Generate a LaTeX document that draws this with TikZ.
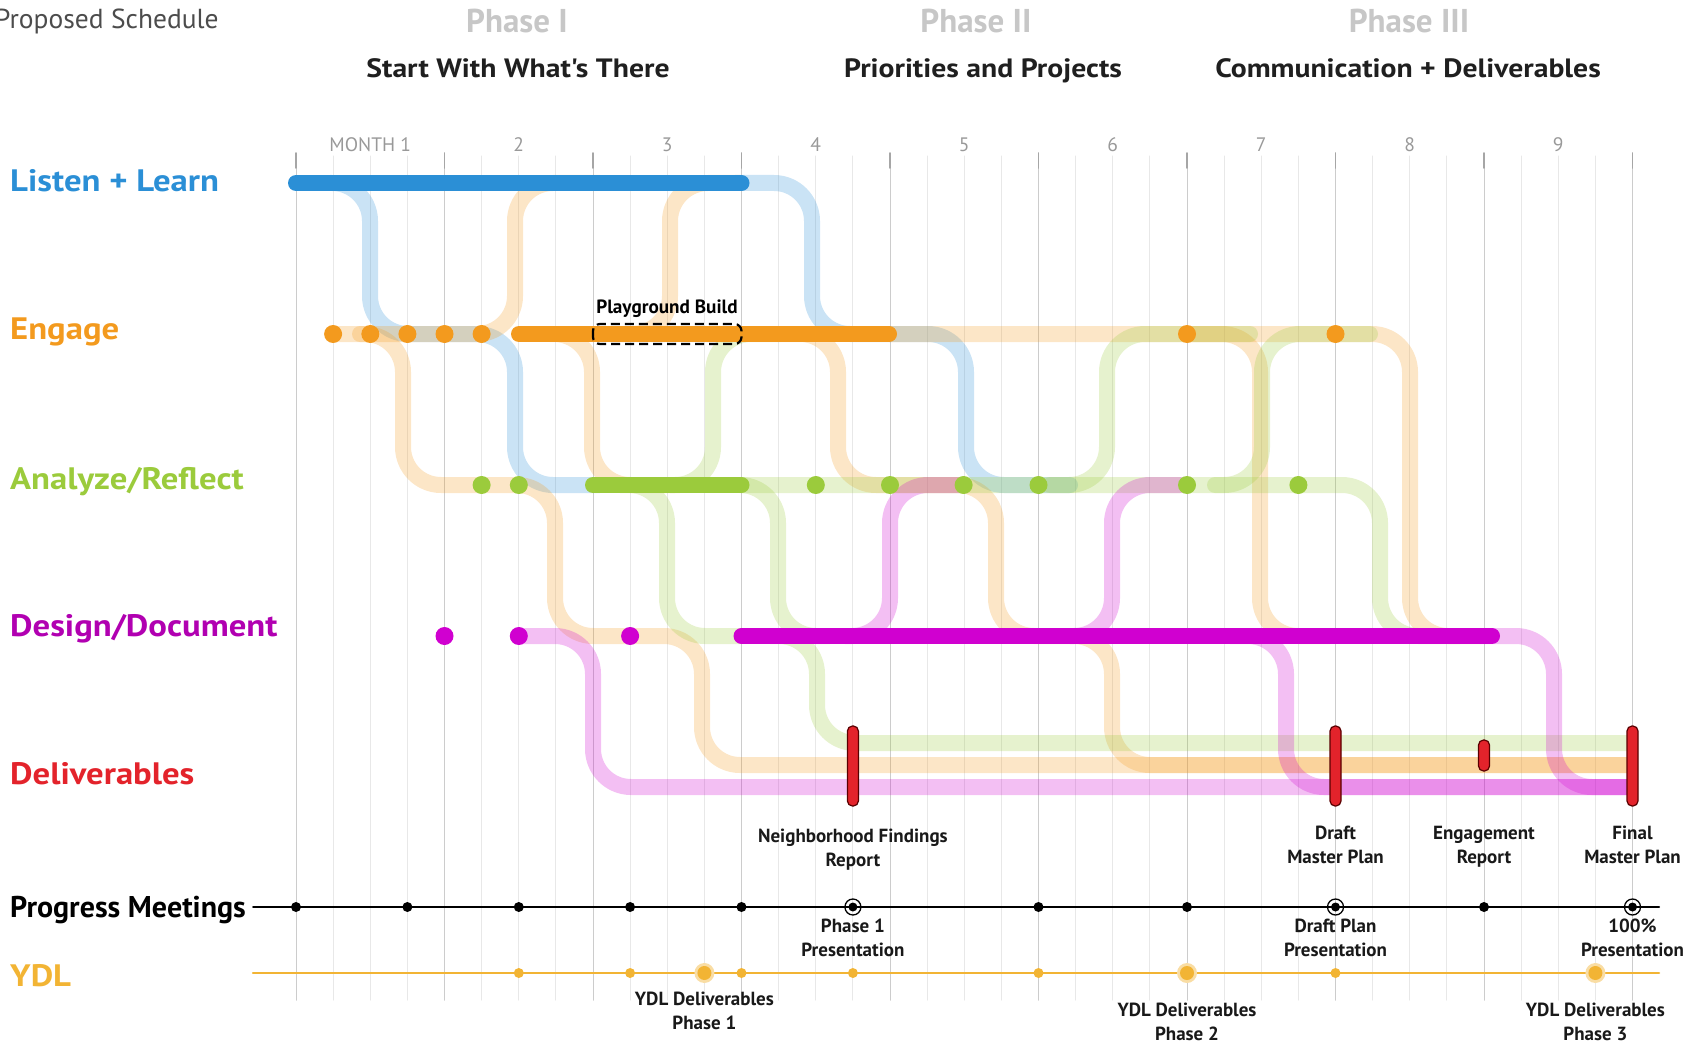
\documentclass[tikz,border=0pt]{standalone}
\usepackage{fontspec}
\setmainfont{PT Sans}
\newfontfamily\widefont[FakeStretch=1.12]{PT Sans}
\definecolor{lblue}{HTML}{2B8FD6}
\definecolor{eorange}{HTML}{F39A1E}
\definecolor{agreen}{HTML}{9BCB3C}
\definecolor{dmagenta}{HTML}{D000D0}
\definecolor{dred}{HTML}{E3232B}
\definecolor{ygold}{HTML}{F2B434}
\begin{document}
\begin{tikzpicture}[x=1pt,y=-1pt,line join=round,line cap=round,
  flow/.style={line width=16pt,rounded corners=38pt,draw opacity=.25},
  solidbar/.style={line width=16pt},
  delbar/.style={fill=dred,draw=red!35!black,line width=1.2pt,rounded corners=5pt},
  pgbox/.style={draw=black,line width=2.2pt,line cap=butt,dash pattern=on 9pt off 5pt,rounded corners=7pt},
  rowlabel/.style={anchor=base west,inner sep=0pt,font=\widefont\fontsize{31}{34}\selectfont\bfseries},
  phase/.style={anchor=base,inner sep=0pt,font=\fontsize{33}{36}\selectfont\bfseries,text=black!22},
  phasesub/.style={anchor=base,inner sep=0pt,font=\widefont\fontsize{26.5}{30}\selectfont\bfseries,text=black!88},
  month/.style={anchor=base,inner sep=0pt,font=\fontsize{19.5}{22}\selectfont,text=black!40},
  note/.style={anchor=north,align=center,inner sep=0pt,font=\fontsize{19}{24}\selectfont\bfseries,text=black!90}]
\useasboundingbox (0,0) rectangle (1704,1043);
% grid
\foreach \k in {0,...,36}
  \draw[black!9,line width=1pt] ({296+\k*37.125},156) -- ({296+\k*37.125},1000);
\foreach \k in {0,...,9}{
  \draw[black!20,line width=1pt] ({296+\k*148.5},156) -- ({296+\k*148.5},1000);
  \draw[black!35,line width=1.6pt] ({296+\k*148.5},153) -- ({296+\k*148.5},168);}
\foreach \m/\t in {1/MONTH 1,2/2,3/3,4/4,5/5,6/6,7/7,8/8,9/9}
  \node[month] (month\m) at ({296+(\m-0.5)*148.5},152) {\t};
% headings
\node[anchor=base west,inner sep=0pt,font=\fontsize{27.5}{30}\selectfont,text=black!70] (title) at (-5,29) {Proposed Schedule};
\node[phase] (ph1) at (517,33) {Phase I};
\node[phase] (ph2) at (976,33) {Phase II};
\node[phase] (ph3) at (1409,33) {Phase III};
\node[phasesub] (sub1) at (518,78) {Start With What's There};
\node[phasesub] (sub2) at (983,78) {Priorities and Projects};
\node[phasesub] (sub3) at (1408,78) {Communication + Deliverables};
% faded tracks
\draw[flow,lblue] (330,183) -- (370,183) -- (370,334) -- (515,334) -- (515,485) -- (600,485);
\draw[flow,lblue] (735,183) -- (812,183) -- (812,334) -- (966,334) -- (966,485) -- (1070,485);
\draw[flow,eorange] (333,334) -- (515,334) -- (515,183) -- (600,183);
\draw[flow,eorange] (360,334) -- (403,334) -- (403,485) -- (555,485) -- (555,636) -- (702,636) -- (702,765) -- (1628,765);
\draw[flow,eorange] (550,334) -- (592,334) -- (592,485) -- (680,485);
\draw[flow,eorange] (610,334) -- (670,334) -- (670,183) -- (740,183);
\draw[flow,eorange] (780,334) -- (838,334) -- (838,485) -- (996,485) -- (996,636) -- (1112,636) -- (1112,765) -- (1628,765);
\draw[flow,eorange] (889,334) -- (1410,334) -- (1410,636) -- (1480,636);
\draw[flow,eorange] (1190,334) -- (1260,334) -- (1260,636) -- (1330,636);
\draw[flow,agreen] (670,485) -- (713,485) -- (713,334) -- (780,334);
\draw[flow,agreen] (620,485) -- (667,485) -- (667,636) -- (740,636);
\draw[flow,agreen] (741,485) -- (778,485) -- (778,636) -- (830,636);
\draw[flow,agreen] (770,636) -- (817,636) -- (817,743) -- (1628,743);
\draw[flow,agreen] (741,485) -- (1380,485) -- (1380,636) -- (1460,636);
\draw[flow,agreen] (1050,485) -- (1107,485) -- (1107,334) -- (1250,334);
\draw[flow,agreen] (1215,485) -- (1262,485) -- (1262,334) -- (1370,334);
\draw[flow,dmagenta] (518,636) -- (593,636) -- (593,787) -- (1628,787);
\draw[flow,dmagenta] (845,636) -- (890,636) -- (890,485) -- (960,485);
\draw[flow,dmagenta] (1070,636) -- (1112,636) -- (1112,485) -- (1180,485);
\draw[flow,dmagenta] (1230,636) -- (1286,636) -- (1286,787) -- (1628,787);
\draw[flow,dmagenta] (1480,636) -- (1554,636) -- (1554,787) -- (1628,787);
% solid bars and dots
\draw[solidbar,lblue] (296,183) -- (741.5,183);
\draw[solidbar,eorange] (519,334) -- (889,334);
\draw[solidbar,agreen] (593,485) -- (741.5,485);
\draw[solidbar,dmagenta] (741.5,636) -- (1492,636);
\foreach \x in {333.1,370.3,407.4,444.5,481.6,1187,1335.5}
  \fill[eorange] (\x,334) circle[radius=9pt];
\foreach \x in {481.6,518.8,815.8,890,963.6,1038.5,1187,1298.4}
  \fill[agreen] (\x,485) circle[radius=9pt];
\foreach \x in {444.5,518.8,630.1}
  \fill[dmagenta] (\x,636) circle[radius=9pt];
\draw[pgbox] (593,324) rectangle (741.5,344);
\node[anchor=base,inner sep=0pt,font=\fontsize{19.2}{21}\selectfont\bfseries] (pg) at (667,313) {Playground Build};
% deliverables
\draw[delbar] (847.4,726) rectangle (858.4,806);
\draw[delbar] (1330,726) rectangle (1341,806);
\draw[delbar] (1478.5,740) rectangle (1489.5,771);
\draw[delbar] (1627,726) rectangle (1638,806);
\node[note] (nfr) at (852.9,829) {Neighborhood Findings\\Report};
\node[note] (dmp) at (1335.5,826) {Draft\\Master Plan};
\node[note] (er) at (1484,826) {Engagement\\Report};
\node[note] (fmp) at (1632.5,826) {Final\\Master Plan};
% meetings
\draw[black,line width=2pt] (253,907) -- (1659,907);
\foreach \x in {296,407.4,518.8,630.1,741.5,1038.5,1187,1484}
  \fill (\x,907) circle[radius=5pt];
\foreach \x in {852.9,1335.5,1632.5}{
  \fill (\x,907) circle[radius=4.5pt];
  \draw[line width=1.3pt] (\x,907) circle[radius=8pt];}
\node[note] (p1p) at (852.9,919) {Phase 1\\Presentation};
\node[note] (dpp) at (1335.5,919) {Draft Plan\\Presentation};
\node[note] (fp) at (1632.5,919) {100\%\\Presentation};
% ydl
\draw[ygold,line width=2.5pt] (253,973) -- (1659,973);
\foreach \x in {518.8,630.1,741.5,852.9,1038.5,1335.5}
  \fill[ygold] (\x,973) circle[radius=5pt];
\foreach \x in {704.4,1187,1595.4}{
  \fill[ygold!45] (\x,973) circle[radius=10pt];
  \fill[ygold] (\x,973) circle[radius=7pt];}
\node[note] (ydl1) at (704.4,992) {YDL Deliverables\\Phase 1};
\node[note] (ydl2) at (1187,1003) {YDL Deliverables\\Phase 2};
\node[note] (ydl3) at (1595.4,1003) {YDL Deliverables\\Phase 3};
% row labels
\node[rowlabel,text=lblue] (listen) at (10,191) {Listen + Learn};
\node[rowlabel,text=eorange] (engage) at (10,339) {Engage};
\node[rowlabel,text=agreen] (analyze) at (10,489) {Analyze/Reflect};
\node[rowlabel,text=dmagenta!85!black] (design) at (10,636) {Design/Document};
\node[rowlabel,text=dred] (deliv) at (10,784) {Deliverables};
\node[anchor=base west,inner sep=0pt,font=\fontsize{30}{33}\selectfont\bfseries] (meet) at (10,917) {Progress Meetings};
\node[rowlabel,text=ygold] (ydl) at (10,986) {YDL};
\end{tikzpicture}
\end{document}
